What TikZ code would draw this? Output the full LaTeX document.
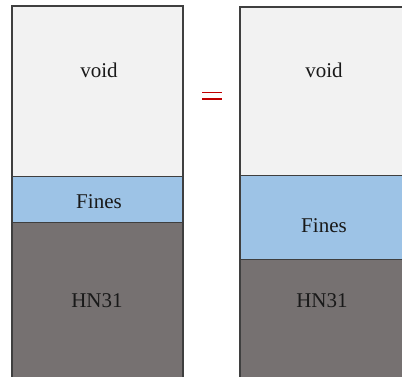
\documentclass[tikz,border=0pt]{standalone}
\usepackage{fontspec}
\setmainfont{Liberation Serif}
\definecolor{voidgray}{HTML}{F2F2F2}
\definecolor{finesblue}{HTML}{9DC3E6}
\definecolor{hngray}{HTML}{767171}
\definecolor{edgegray}{HTML}{3F3F3F}
\definecolor{eqred}{HTML}{C00000}
\tikzset{
  layer/.style={draw=edgegray, line width=0.9pt},
  frame/.style={draw=edgegray, line width=1.5pt},
  lbl/.style={anchor=base, font=\fontsize{21}{25}\selectfont, text=black!90}
}
\begin{document}
\begin{tikzpicture}[x=1pt,y=1pt]
\useasboundingbox (0,0) rectangle (402,376);

% left column
\fill[voidgray] (12,200) rectangle (183,370);
\fill[finesblue] (12,154) rectangle (183,200);
\fill[hngray] (12,-5) rectangle (183,154);
\draw[layer] (12,200) -- (183,200);
\draw[layer] (12,154) -- (183,154);
\draw[frame] (12,-5) rectangle (183,370);
\node[lbl] (voidL) at (99,299) {void};
\node[lbl] (finesL) at (99,168) {Fines};
\node[lbl] (hnL) at (97,69) {HN31};

% equals sign
\draw[eqred, line width=1.6pt] (202,283.5) -- (222,283.5);
\draw[eqred, line width=1.6pt] (202,277) -- (222,277);

% right column
\fill[voidgray] (240,201) rectangle (412,369);
\fill[finesblue] (240,117) rectangle (412,201);
\fill[hngray] (240,-5) rectangle (412,117);
\draw[layer] (240,201) -- (412,201);
\draw[layer] (240,117) -- (412,117);
\draw[frame] (240,-5) rectangle (412,369);
\node[lbl] (voidR) at (324,299) {void};
\node[lbl] (finesR) at (324,144) {Fines};
\node[lbl] (hnR) at (322,69) {HN31};
\end{tikzpicture}
\end{document}
